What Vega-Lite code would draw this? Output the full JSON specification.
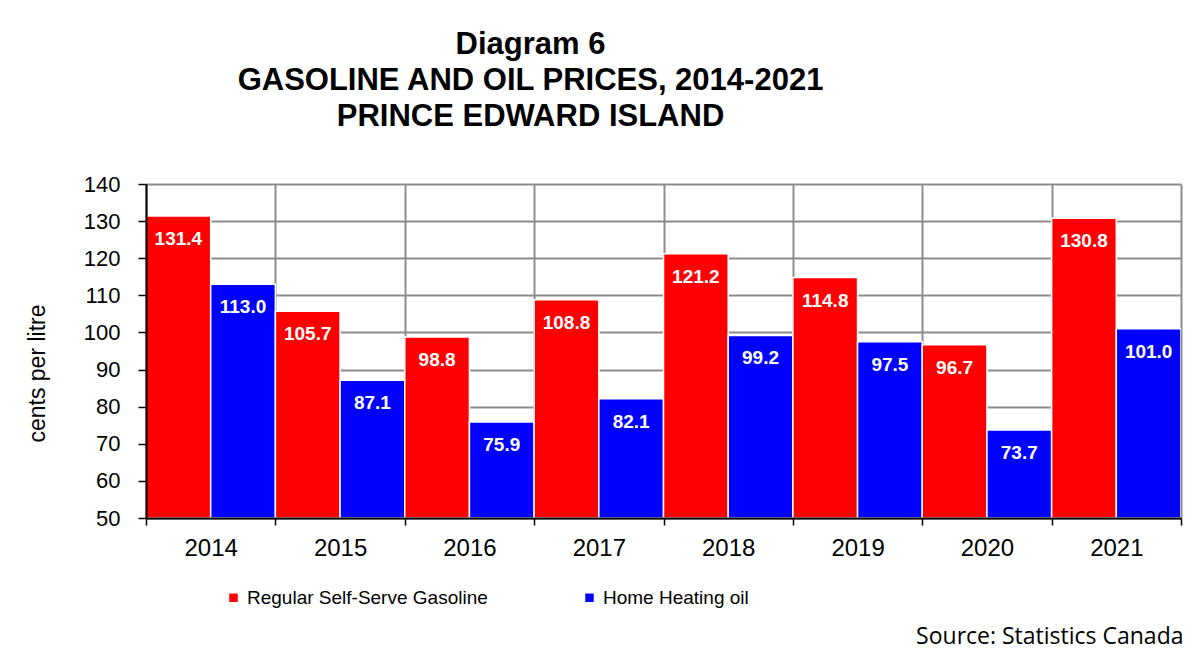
{
  "$schema": "https://vega.github.io/schema/vega-lite/v6.json",
  "autosize": {"type": "none"},
  "padding": {"left": 146, "top": 184, "right": 13, "bottom": 135},
  "width": 1035,
  "height": 334,
  "background": "white",
  "title": {
    "text": ["Diagram 6", "GASOLINE AND OIL PRICES, 2014-2021", "PRINCE EDWARD ISLAND"],
    "font": "Liberation Sans",
    "fontSize": 31,
    "fontWeight": "bold",
    "color": "black",
    "lineHeight": 36,
    "anchor": "middle",
    "dx": -133,
    "offset": 40
  },
  "data": {
    "values": [
      {"year": "2014", "series": "Regular Self-Serve Gasoline", "value": 131.4},
      {"year": "2014", "series": "Home Heating oil", "value": 113.0},
      {"year": "2015", "series": "Regular Self-Serve Gasoline", "value": 105.7},
      {"year": "2015", "series": "Home Heating oil", "value": 87.1},
      {"year": "2016", "series": "Regular Self-Serve Gasoline", "value": 98.8},
      {"year": "2016", "series": "Home Heating oil", "value": 75.9},
      {"year": "2017", "series": "Regular Self-Serve Gasoline", "value": 108.8},
      {"year": "2017", "series": "Home Heating oil", "value": 82.1},
      {"year": "2018", "series": "Regular Self-Serve Gasoline", "value": 121.2},
      {"year": "2018", "series": "Home Heating oil", "value": 99.2},
      {"year": "2019", "series": "Regular Self-Serve Gasoline", "value": 114.8},
      {"year": "2019", "series": "Home Heating oil", "value": 97.5},
      {"year": "2020", "series": "Regular Self-Serve Gasoline", "value": 96.7},
      {"year": "2020", "series": "Home Heating oil", "value": 73.7},
      {"year": "2021", "series": "Regular Self-Serve Gasoline", "value": 130.8},
      {"year": "2021", "series": "Home Heating oil", "value": 101.0}
    ]
  },
  "layer": [
    {
      "mark": {"type": "bar", "stroke": "white", "strokeWidth": 1.5, "clip": true},
      "encoding": {
        "x": {
          "field": "year", "type": "nominal",
          "scale": {"paddingInner": 0, "paddingOuter": 0},
          "axis": {"orient": "bottom", "grid": true, "tickBand": "extent", "domain": false, "ticks": false, "labels": false, "title": null, "gridColor": "#8c8c8c", "gridWidth": 2, "zindex": 0}
        },
        "xOffset": {
          "field": "series", "type": "nominal",
          "scale": {"domain": ["Regular Self-Serve Gasoline", "Home Heating oil"], "paddingInner": 0, "paddingOuter": 0}
        },
        "y": {
          "field": "value", "type": "quantitative",
          "scale": {"domain": [50, 140], "nice": false, "zero": false},
          "axis": {"orient": "left", "grid": true, "values": [50, 60, 70, 80, 90, 100, 110, 120, 130, 140], "domain": false, "ticks": false, "labels": false, "title": null, "gridColor": "#8c8c8c", "gridWidth": 2, "zindex": 0}
        },
        "y2": {"datum": 50},
        "color": {
          "field": "series", "type": "nominal",
          "scale": {"domain": ["Regular Self-Serve Gasoline", "Home Heating oil"], "range": ["#FF0000", "#0000FF"]},
          "legend": {
            "orient": "none", "legendX": 78, "legendY": 404, "direction": "horizontal",
            "title": null, "symbolType": "square", "symbolSize": 72, "symbolStrokeWidth": 0,
            "labelFont": "Liberation Sans", "labelFontSize": 19, "labelColor": "black", "labelLimit": 0,
            "labelOffset": 4, "columnPadding": 92
          }
        }
      }
    },
    {
      "mark": {"type": "text", "color": "white", "font": "Liberation Sans", "fontSize": 19, "fontWeight": "bold", "dy": 23, "baseline": "middle"},
      "encoding": {
        "x": {
          "field": "year", "type": "nominal",
          "axis": {"orient": "bottom", "grid": false, "tickBand": "extent", "domainColor": "black", "domainWidth": 2, "tickColor": "black", "tickWidth": 1.5, "tickSize": 7, "labelAngle": 0, "labelFont": "Liberation Sans", "labelFontSize": 24, "labelColor": "black", "labelPadding": 11,
            "title": "Source: Statistics Canada", "titleFont": "Open Sans", "titleFontWeight": "normal", "titleFontSize": 23, "titleColor": "black", "titleX": 1037, "titleY": 125, "titleAlign": "right", "titleBaseline": "alphabetic", "zindex": 1}
        },
        "xOffset": {"field": "series", "type": "nominal"},
        "y": {
          "field": "value", "type": "quantitative",
          "axis": {"orient": "left", "grid": false, "values": [50, 60, 70, 80, 90, 100, 110, 120, 130, 140], "domainColor": "black", "domainWidth": 2, "tickColor": "black", "tickWidth": 1.5, "tickSize": 8, "labelFont": "Liberation Sans", "labelFontSize": 22, "labelColor": "black", "labelPadding": 18,
            "title": "cents per litre", "titleFont": "Liberation Sans", "titleFontWeight": "normal", "titleFontSize": 23, "titleColor": "black", "titleX": -109, "titleY": 189, "titleAngle": -90, "titleAlign": "center", "titleBaseline": "middle", "zindex": 1}
        },
        "text": {"field": "value", "type": "quantitative", "format": ".1f"}
      }
    }
  ],
  "resolve": {"axis": {"x": "independent", "y": "independent"}},
  "config": {"view": {"stroke": null}}
}
